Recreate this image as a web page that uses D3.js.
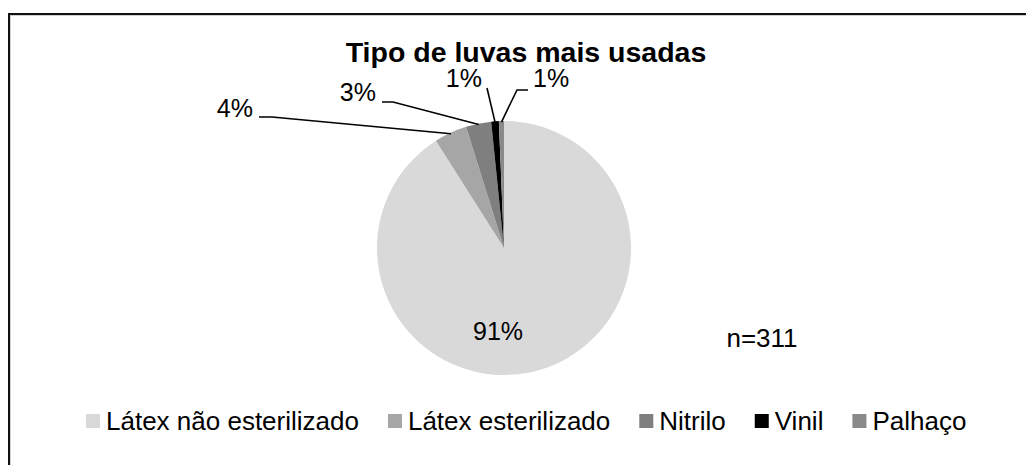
<!DOCTYPE html>
<html>
<head>
<meta charset="utf-8">
<script src="https://cdn.jsdelivr.net/npm/d3@7"></script>
<style>
  body { margin: 0; background: #fff; }
  svg { display: block; font-family: 'Liberation Sans', Arial, sans-serif; }
</style>
</head>
<body>
<div id="chart"></div>
<script>
// Data
const categories = ['Látex não esterilizado', 'Látex esterilizado', 'Nitrilo', 'Vinil', 'Palhaço'];
const counts = [283, 13, 10, 3, 2];
const percentLabels = ['91%', '4%', '3%', '1%', '1%'];
const totalLabel = 'n=311';
const title = 'Tipo de luvas mais usadas';

// Styles
const colors = ['#d9d9d9', '#a6a6a6', '#7f7f7f', '#000000', '#8a8a8a'];

// Label layout, offsets from pie centre: text anchor + leader start + elbow
const labelLayout = [
  { anchor: 'middle', tx: -6, ty: 92, leader: null },
  { anchor: 'end', tx: -251, ty: -131, start: [-245, -131], elbow: [-232, -131] },
  { anchor: 'end', tx: -128, ty: -147, start: [-122, -146], elbow: [-111, -146] },
  { anchor: 'end', tx: -22, ty: -161, start: [-17, -160], elbow: [-17, -160] },
  { anchor: 'start', tx: 29, ty: -161, start: [24, -158], elbow: [13, -158] }
];

const width = 1026;
const height = 465;

const svg = d3.select('#chart')
  .append('svg')
  .attr('width', width)
  .attr('height', height);

// Chart frame (runs off the right and bottom)
svg.append('rect')
  .attr('x', 10.5).attr('y', 15.5)
  .attr('width', width).attr('height', height)
  .attr('fill', 'none').attr('stroke', '#d0d0d0').attr('stroke-width', 1);
svg.append('rect')
  .attr('x', 9).attr('y', 14)
  .attr('width', width).attr('height', height)
  .attr('fill', 'none').attr('stroke', '#111').attr('stroke-width', 2);

// Title
svg.append('text')
  .attr('x', 526)
  .attr('y', 62)
  .attr('text-anchor', 'middle')
  .attr('font-weight', 'bold')
  .attr('font-size', 28.5)
  .text(title);

// Pie
const cx = 504;
const cy = 248;
const r = 127;

const pie = d3.pie().sort(null).value((d) => d);
const arcs = pie(counts);
const arc = d3.arc().innerRadius(0).outerRadius(r);

const g = svg.append('g').attr('transform', `translate(${cx}, ${cy})`);

g.selectAll('path.slice')
  .data(arcs).enter()
  .append('path')
  .attr('class', 'slice')
  .attr('d', arc)
  .attr('fill', (d, i) => colors[i]);

// Leader lines to the outer edge at the slice mid-angle
g.selectAll('path.leader')
  .data(arcs.filter((d, i) => labelLayout[i].start)).enter()
  .append('path')
  .attr('class', 'leader')
  .attr('fill', 'none')
  .attr('stroke', '#000')
  .attr('stroke-width', 1.6)
  .attr('d', (d) => {
    const L = labelLayout[d.index];
    const a = (d.startAngle + d.endAngle) / 2;
    const end = [Math.sin(a) * (r - 1), -Math.cos(a) * (r - 1)];
    return d3.line()([L.start, L.elbow, end]);
  });

g.selectAll('text.pct')
  .data(arcs).enter()
  .append('text')
  .attr('class', 'pct')
  .attr('x', (d) => labelLayout[d.index].tx)
  .attr('y', (d) => labelLayout[d.index].ty)
  .attr('text-anchor', (d) => labelLayout[d.index].anchor)
  .attr('font-size', 25)
  .attr('fill', '#000')
  .text((d) => percentLabels[d.index]);

// n label
svg.append('text')
  .attr('x', 762)
  .attr('y', 347)
  .attr('text-anchor', 'middle')
  .attr('font-size', 26)
  .text(totalLabel);

// Legend
const legend = svg.append('g').attr('transform', 'translate(86, 0)');
let lx = 0;
categories.forEach((c, i) => {
  legend.append('rect')
    .attr('x', lx).attr('y', 414)
    .attr('width', 14).attr('height', 14)
    .attr('fill', colors[i]);
  const t = legend.append('text')
    .attr('x', lx + 20)
    .attr('y', 430)
    .attr('font-size', 26)
    .text(c);
  lx += 20 + t.node().getComputedTextLength() + 29;
});
</script>
</body>
</html>
